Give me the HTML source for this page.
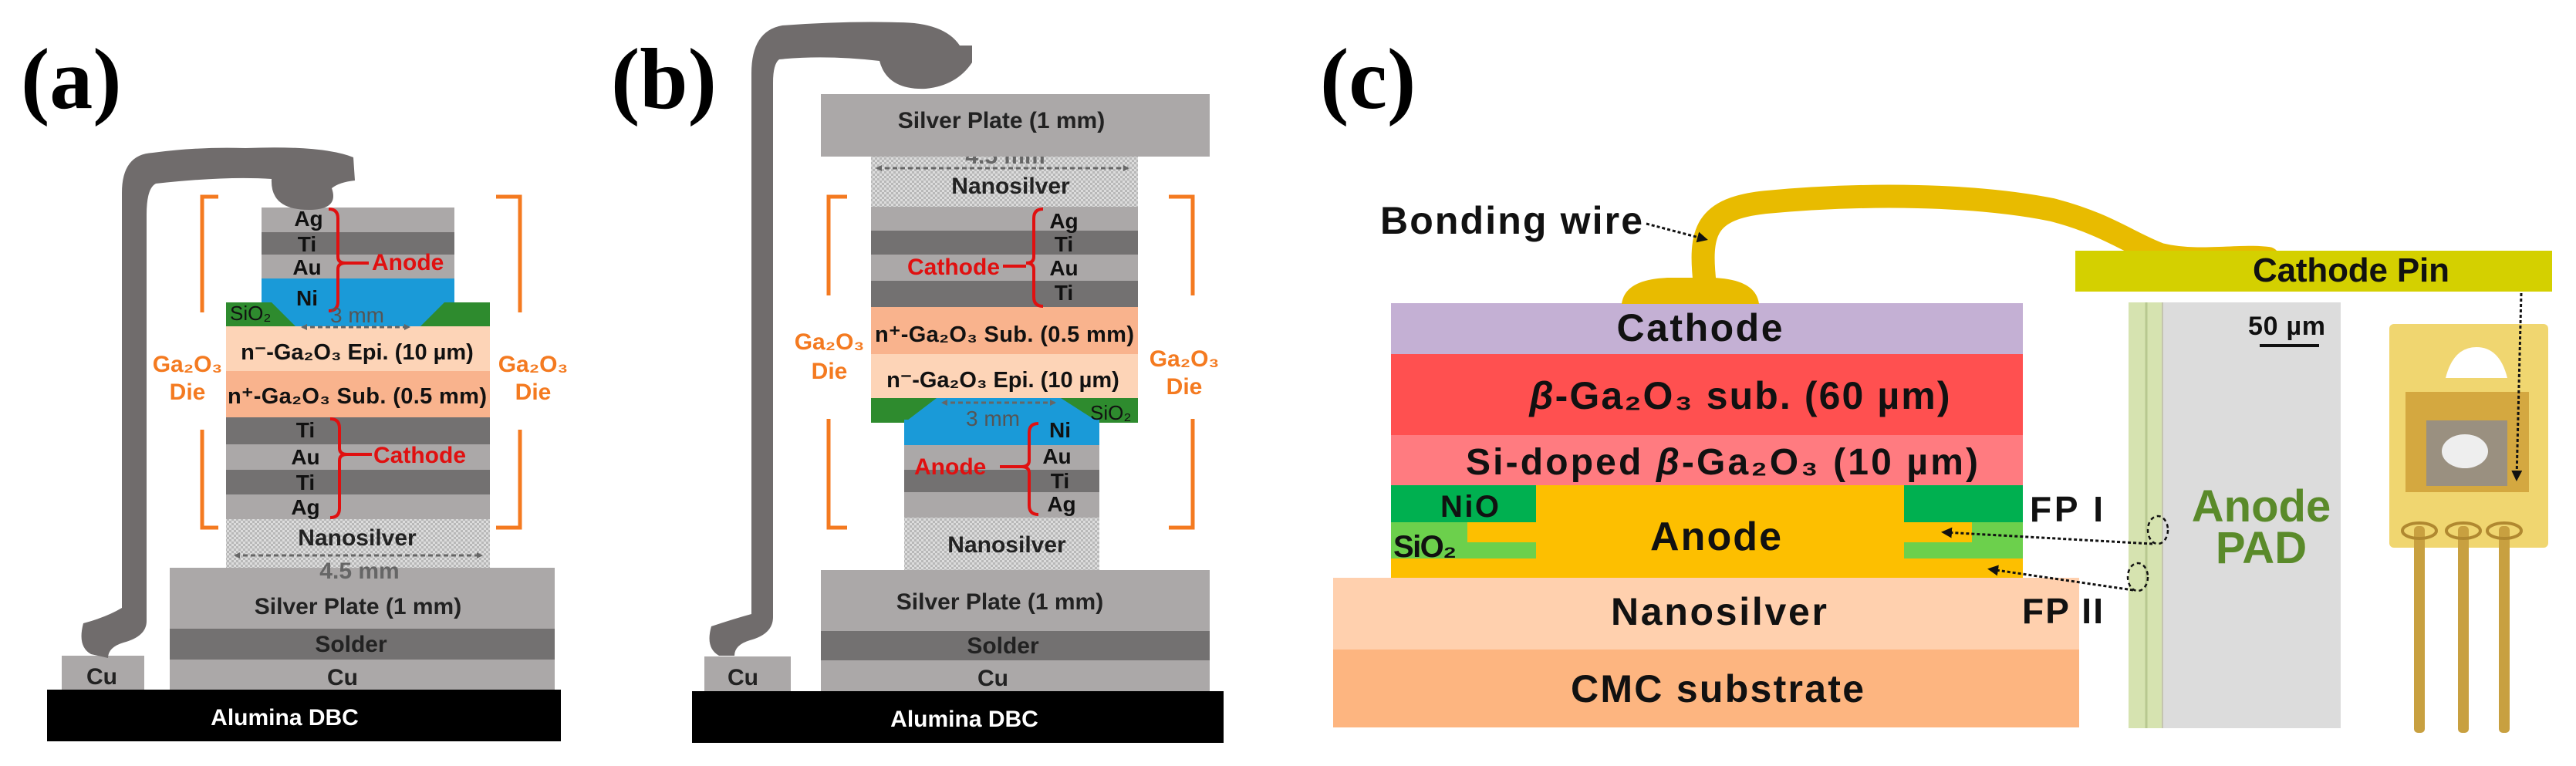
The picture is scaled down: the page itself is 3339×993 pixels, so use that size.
<!DOCTYPE html>
<html><head><meta charset="utf-8"><style>
html,body{margin:0;padding:0;background:#fff;}
svg{display:block;}
text{font-family:"Liberation Sans",sans-serif;font-weight:bold;}
</style></head><body>
<svg width="3339" height="993" viewBox="0 0 3339 993" xmlns="http://www.w3.org/2000/svg">
<defs>
<pattern id="hatch" width="6" height="6" patternUnits="userSpaceOnUse">
<rect width="6" height="6" fill="#dcdcdc"/>
<rect width="3" height="3" fill="#b8b8b8"/><rect x="3" y="3" width="3" height="3" fill="#b8b8b8"/>
</pattern>
<marker id="ah" markerWidth="8" markerHeight="8" refX="6" refY="4" orient="auto-start-reverse" markerUnits="userSpaceOnUse">
<path d="M0,0 L8,4 L0,8 z" fill="#666"/></marker>
<marker id="ak" markerWidth="14" markerHeight="14" refX="10" refY="7" orient="auto" markerUnits="userSpaceOnUse">
<path d="M0,0 L14,7 L0,14 z" fill="#111"/></marker>
</defs>

<!-- ===== (a) ===== -->
<text x="27" y="140" font-size="112" style="font-family:'Liberation Serif',serif">(a)</text>
<rect x="61" y="894" width="666" height="67" fill="#000"/>
<text x="369" y="940" font-size="30" fill="#fff" text-anchor="middle">Alumina DBC</text>
<rect x="80" y="850" width="107" height="44" fill="#aba8a8"/>
<text x="132" y="887" font-size="30" text-anchor="middle" fill="#222">Cu</text>
<rect x="220" y="855" width="499" height="39" fill="#aba8a8"/>
<text x="444" y="888" font-size="30" text-anchor="middle" fill="#222">Cu</text>
<rect x="220" y="815" width="499" height="40" fill="#737171"/>
<text x="455" y="845" font-size="30" text-anchor="middle" fill="#222">Solder</text>
<rect x="220" y="736" width="499" height="79" fill="#aba8a8"/>
<text x="464" y="796" font-size="30" text-anchor="middle" fill="#222">Silver Plate (1 mm)</text>
<rect x="293" y="673" width="342" height="63" fill="url(#hatch)"/>
<text x="463" y="707" font-size="30" text-anchor="middle" fill="#222">Nanosilver</text>
<line x1="305" y1="720" x2="624" y2="720" stroke="#666" stroke-width="3" stroke-dasharray="6,4" marker-start="url(#ah)" marker-end="url(#ah)"/>
<text x="466" y="750" font-size="30" text-anchor="middle" fill="#666">4.5 mm</text>
<rect x="293" y="541" width="342" height="35" fill="#737171"/>
<rect x="293" y="576" width="342" height="33" fill="#aba8a8"/>
<rect x="293" y="609" width="342" height="32" fill="#737171"/>
<rect x="293" y="641" width="342" height="32" fill="#aba8a8"/>
<g font-size="28" fill="#111" text-anchor="middle"><text x="396" y="567">Ti</text><text x="396" y="602">Au</text><text x="396" y="635">Ti</text><text x="396" y="667">Ag</text></g>
<path d="M428,543 q12,0 12,12 v26 q0,8 10,8 q-10,0 -10,8 v62 q0,12 -12,12" fill="none" stroke="#e01010" stroke-width="4"/>
<line x1="450" y1="589" x2="482" y2="589" stroke="#e01010" stroke-width="4"/>
<text x="484" y="600" font-size="30" fill="#e01010">Cathode</text>
<rect x="293" y="481" width="342" height="60" fill="#f9b38d"/>
<text x="463" y="523" font-size="29" text-anchor="middle" fill="#111" textLength="336">n⁺-Ga₂O₃ Sub. (0.5 mm)</text>
<rect x="293" y="423" width="342" height="58" fill="#fdd4b7"/>
<text x="463" y="466" font-size="29" text-anchor="middle" fill="#111">n⁻-Ga₂O₃ Epi. (10 µm)</text>
<rect x="293" y="392" width="342" height="31" fill="#2e8b2e"/>
<rect x="339" y="361" width="250" height="31" fill="#1a9ad8"/>
<polygon points="352,392 576,392 545,423 383,423" fill="#1a9ad8"/>
<rect x="339" y="330" width="250" height="31" fill="#aba8a8"/>
<rect x="339" y="301" width="250" height="29" fill="#737171"/>
<rect x="339" y="269" width="250" height="32" fill="#aba8a8"/>
<g font-size="28" fill="#111" text-anchor="middle"><text x="400" y="293">Ag</text><text x="398" y="326">Ti</text><text x="398" y="356">Au</text><text x="398" y="396">Ni</text></g>
<text x="298" y="415" font-size="26" fill="#111" style="font-weight:normal">SiO₂</text>
<path d="M426,271 q12,0 12,12 v50 q0,8 10,8 q-10,0 -10,8 v42 q0,12 -12,12" fill="none" stroke="#e01010" stroke-width="4"/>
<line x1="448" y1="341" x2="478" y2="341" stroke="#e01010" stroke-width="4"/>
<text x="482" y="350" font-size="30" fill="#e01010">Anode</text>
<text x="428" y="418" font-size="28" fill="#555" style="font-weight:normal">3 mm</text>
<line x1="392" y1="424" x2="530" y2="424" stroke="#666" stroke-width="3" stroke-dasharray="6,4" marker-start="url(#ah)" marker-end="url(#ah)"/>
<g fill="none" stroke="#f47a20" stroke-width="5">
<path d="M283,255 H262 V405"/><path d="M283,684 H262 V557"/>
<path d="M643,255 H674 V405"/><path d="M643,684 H674 V557"/>
</g>
<g font-size="30" fill="#f47a20" text-anchor="middle" style="font-weight:normal"><text x="243" y="482">Ga₂O₃</text><text x="243" y="518">Die</text><text x="691" y="482">Ga₂O₃</text><text x="691" y="518">Die</text></g>
<path d="M118,848 q-18,-10 -10,-40 q30,-8 50,-20 V250 q0,-50 40,-52 q60,-8 120,-6 q100,-4 140,12 l2,30 q-20,2 -30,10 q10,28 -30,28 q-50,0 -48,-40 q-60,-4 -150,6 q-12,6 -12,40 V805 q0,20 -30,28 q-20,6 -20,20 z" fill="#706c6c"/>

<!-- ===== (b) ===== -->
<text x="792" y="140" font-size="112" style="font-family:'Liberation Serif',serif">(b)</text>
<rect x="897" y="896" width="689" height="67" fill="#000"/>
<text x="1250" y="942" font-size="30" fill="#fff" text-anchor="middle">Alumina DBC</text>
<rect x="913" y="851" width="112" height="45" fill="#aba8a8"/>
<text x="963" y="888" font-size="30" text-anchor="middle" fill="#222">Cu</text>
<rect x="1064" y="856" width="504" height="40" fill="#aba8a8"/>
<text x="1287" y="889" font-size="30" text-anchor="middle" fill="#222">Cu</text>
<rect x="1064" y="818" width="504" height="38" fill="#737171"/>
<text x="1300" y="847" font-size="30" text-anchor="middle" fill="#222">Solder</text>
<rect x="1064" y="739" width="504" height="79" fill="#aba8a8"/>
<text x="1296" y="790" font-size="30" text-anchor="middle" fill="#222">Silver Plate (1 mm)</text>
<rect x="1172" y="671" width="253" height="68" fill="url(#hatch)"/>
<text x="1305" y="716" font-size="30" text-anchor="middle" fill="#222">Nanosilver</text>
<rect x="1172" y="577" width="253" height="32" fill="#aba8a8"/>
<rect x="1172" y="609" width="253" height="29" fill="#737171"/>
<rect x="1172" y="638" width="253" height="33" fill="#aba8a8"/>
<rect x="1129" y="516" width="346" height="32" fill="#2e8b2e"/>
<rect x="1172" y="544" width="253" height="33" fill="#1a9ad8"/>
<polygon points="1214,516 1375,516 1425,548 1172,548" fill="#1a9ad8"/>
<g font-size="28" fill="#111" text-anchor="middle"><text x="1374" y="567">Ni</text><text x="1370" y="601">Au</text><text x="1374" y="633">Ti</text><text x="1376" y="663">Ag</text></g>
<path d="M1346,549 q-12,0 -12,12 v36 q0,8 -10,8 q10,0 10,8 v42 q0,12 12,12" fill="none" stroke="#e01010" stroke-width="4"/>
<line x1="1324" y1="605" x2="1296" y2="605" stroke="#e01010" stroke-width="4"/>
<text x="1185" y="615" font-size="30" fill="#e01010">Anode</text>
<text x="1413" y="544" font-size="26" fill="#111" style="font-weight:normal">SiO₂</text>
<line x1="1222" y1="522" x2="1367" y2="522" stroke="#666" stroke-width="3" stroke-dasharray="6,4" marker-start="url(#ah)" marker-end="url(#ah)"/>
<text x="1252" y="552" font-size="28" fill="#555" style="font-weight:normal">3 mm</text>
<rect x="1129" y="459" width="346" height="57" fill="#fdd4b7"/>
<text x="1300" y="502" font-size="29" text-anchor="middle" fill="#111">n⁻-Ga₂O₃ Epi. (10 µm)</text>
<rect x="1129" y="398" width="346" height="61" fill="#f9b38d"/>
<text x="1302" y="443" font-size="29" text-anchor="middle" fill="#111" textLength="336">n⁺-Ga₂O₃ Sub. (0.5 mm)</text>
<rect x="1129" y="268" width="346" height="31" fill="#aba8a8"/>
<rect x="1129" y="299" width="346" height="31" fill="#737171"/>
<rect x="1129" y="330" width="346" height="34" fill="#aba8a8"/>
<rect x="1129" y="364" width="346" height="34" fill="#737171"/>
<g font-size="28" fill="#111" text-anchor="middle"><text x="1379" y="296">Ag</text><text x="1379" y="326">Ti</text><text x="1379" y="357">Au</text><text x="1379" y="389">Ti</text></g>
<path d="M1352,271 q-12,0 -12,12 v50 q0,8 -10,8 q10,0 10,8 v36 q0,12 12,12" fill="none" stroke="#e01010" stroke-width="4"/>
<line x1="1330" y1="345" x2="1300" y2="345" stroke="#e01010" stroke-width="4"/>
<text x="1176" y="356" font-size="30" fill="#e01010">Cathode</text>
<rect x="1129" y="203" width="346" height="65" fill="url(#hatch)"/>
<text x="1310" y="251" font-size="30" text-anchor="middle" fill="#222">Nanosilver</text>
<line x1="1137" y1="218" x2="1462" y2="218" stroke="#666" stroke-width="3" stroke-dasharray="6,4" marker-start="url(#ah)" marker-end="url(#ah)"/>
<text x="1303" y="212" font-size="30" text-anchor="middle" fill="#666">4.5 mm</text>
<rect x="1064" y="122" width="504" height="81" fill="#aba8a8"/>
<text x="1298" y="166" font-size="30" text-anchor="middle" fill="#222">Silver Plate (1 mm)</text>
<g fill="none" stroke="#f47a20" stroke-width="5">
<path d="M1098,255 H1074 V383"/><path d="M1098,684 H1074 V543"/>
<path d="M1515,255 H1546 V383"/><path d="M1515,684 H1546 V543"/>
</g>
<g font-size="30" fill="#f47a20" text-anchor="middle" style="font-weight:normal"><text x="1075" y="453">Ga₂O₃</text><text x="1075" y="491">Die</text><text x="1535" y="475">Ga₂O₃</text><text x="1535" y="511">Die</text></g>
<path d="M932,850 q-18,-10 -10,-38 q30,-10 52,-16 V95 q0,-55 40,-62 q80,-6 150,-4 q60,0 80,30 h16 l0,22 q-20,30 -60,34 q-50,2 -60,-36 q-70,-8 -130,-2 q-8,6 -8,30 V800 q0,22 -30,30 q-20,6 -20,20 z" fill="#706c6c"/>

<!-- ===== (c) ===== -->
<text x="1711" y="140" font-size="112" style="font-family:'Liberation Serif',serif">(c)</text>
<rect x="1728" y="842" width="967" height="101" fill="#fdb580"/>
<text x="2226" y="910" font-size="50" text-anchor="middle" fill="#111" textLength="380">CMC substrate</text>
<rect x="1728" y="749" width="967" height="93" fill="#ffd0ae"/>
<text x="2228" y="810" font-size="50" text-anchor="middle" fill="#111" textLength="280">Nanosilver</text>
<rect x="1803" y="629" width="819" height="120" fill="#fdbf00"/>
<rect x="1803" y="629" width="188" height="48" fill="#00b050"/>
<rect x="2468" y="629" width="154" height="48" fill="#00b050"/>
<path d="M1803,677 h99 v26 h89 v21 h-188 z" fill="#6cd04c"/>
<path d="M2622,677 h-66 v26 h-88 v21 h154 z" fill="#6cd04c"/>
<text x="1905" y="670" font-size="40" text-anchor="middle" fill="#111" textLength="76">NiO</text>
<text x="1806" y="722" font-size="40" fill="#111" textLength="82">SiO₂</text>
<text x="2224" y="713" font-size="52" text-anchor="middle" fill="#111" textLength="170">Anode</text>
<rect x="1803" y="564" width="819" height="65" fill="#ff7b80"/>
<text x="2232" y="615" font-size="48" text-anchor="middle" fill="#111" textLength="664">Si-doped <tspan font-style="italic">β</tspan>-Ga₂O₃ (10 µm)</text>
<rect x="1803" y="459" width="819" height="105" fill="#ff5050"/>
<text x="2255" y="530" font-size="50" text-anchor="middle" fill="#111" textLength="545"><tspan font-style="italic">β</tspan>-Ga₂O₃ sub. (60 µm)</text>
<rect x="1803" y="393" width="819" height="66" fill="#c4b0d4"/>
<text x="2203" y="442" font-size="50" text-anchor="middle" fill="#111" textLength="215">Cathode</text>
<!-- bonding wire -->
<path d="M2102,394 q4,-32 60,-34 h58 q56,2 60,34 z" fill="#e8bb00"/>
<path d="M2210,370 C2202,300 2210,270 2290,262 C2420,250 2560,252 2660,272 C2730,290 2760,315 2800,330 C2850,342 2900,330 2940,335" fill="none" stroke="#e8bb00" stroke-width="30" stroke-linecap="round"/>
<rect x="2690" y="325" width="618" height="53" fill="#d4d000"/>
<text x="2920" y="365" font-size="44" fill="#111" textLength="255">Cathode Pin</text>
<text x="1789" y="303" font-size="50" fill="#111" textLength="340">Bonding wire</text>
<line x1="2134" y1="290" x2="2210" y2="310" stroke="#111" stroke-width="3" stroke-dasharray="4,3" marker-end="url(#ak)"/>
<!-- anode pad photo -->
<rect x="2759" y="392" width="275" height="552" fill="#dcdcdc"/>
<rect x="2759" y="392" width="44" height="552" fill="#d6e3b0"/>
<line x1="2782" y1="392" x2="2782" y2="944" stroke="#b8c890" stroke-width="3"/>
<line x1="2803" y1="392" x2="2803" y2="944" stroke="#c4c4b0" stroke-width="2"/>
<text x="2914" y="434" font-size="34" fill="#111" textLength="100">50 µm</text>
<line x1="2929" y1="448" x2="3006" y2="448" stroke="#111" stroke-width="4"/>
<text x="2931" y="676" font-size="58" text-anchor="middle" fill="#5a8a2a">Anode</text>
<text x="2931" y="730" font-size="58" text-anchor="middle" fill="#5a8a2a">PAD</text>
<text x="2631" y="676" font-size="46" fill="#111" textLength="95">FP I</text>
<text x="2621" y="808" font-size="46" fill="#111" textLength="105">FP II</text>
<ellipse cx="2797" cy="687" rx="13" ry="18" fill="none" stroke="#111" stroke-width="2.5" stroke-dasharray="5,4"/>
<ellipse cx="2771" cy="748" rx="13" ry="18" fill="none" stroke="#111" stroke-width="2.5" stroke-dasharray="5,4"/>
<line x1="2790" y1="705" x2="2520" y2="690" stroke="#111" stroke-width="3" stroke-dasharray="4,3" marker-end="url(#ak)"/>
<line x1="2765" y1="765" x2="2580" y2="738" stroke="#111" stroke-width="3" stroke-dasharray="4,3" marker-end="url(#ak)"/>
<!-- package photo -->
<rect x="3097" y="420" width="206" height="290" rx="6" fill="#f0d670"/>
<path d="M3170,490 q10,-40 40,-40 q30,0 40,40 z" fill="#fff"/>
<rect x="3118" y="508" width="160" height="130" fill="#d4a840"/>
<rect x="3145" y="545" width="105" height="85" fill="#9a9080"/>
<ellipse cx="3195" cy="585" rx="30" ry="22" fill="#eee"/>
<g fill="#c8a040">
<rect x="3129" y="682" width="14" height="268" rx="5"/><rect x="3186" y="682" width="14" height="268" rx="5"/><rect x="3239" y="682" width="14" height="268" rx="5"/>
</g>
<g fill="none" stroke="#b08830" stroke-width="4"><ellipse cx="3136" cy="688" rx="22" ry="10"/><ellipse cx="3193" cy="688" rx="22" ry="10"/><ellipse cx="3246" cy="688" rx="22" ry="10"/></g>
<line x1="3268" y1="380" x2="3262" y2="620" stroke="#111" stroke-width="3" stroke-dasharray="4,3" marker-end="url(#ak)"/>
</svg>
</body></html>
